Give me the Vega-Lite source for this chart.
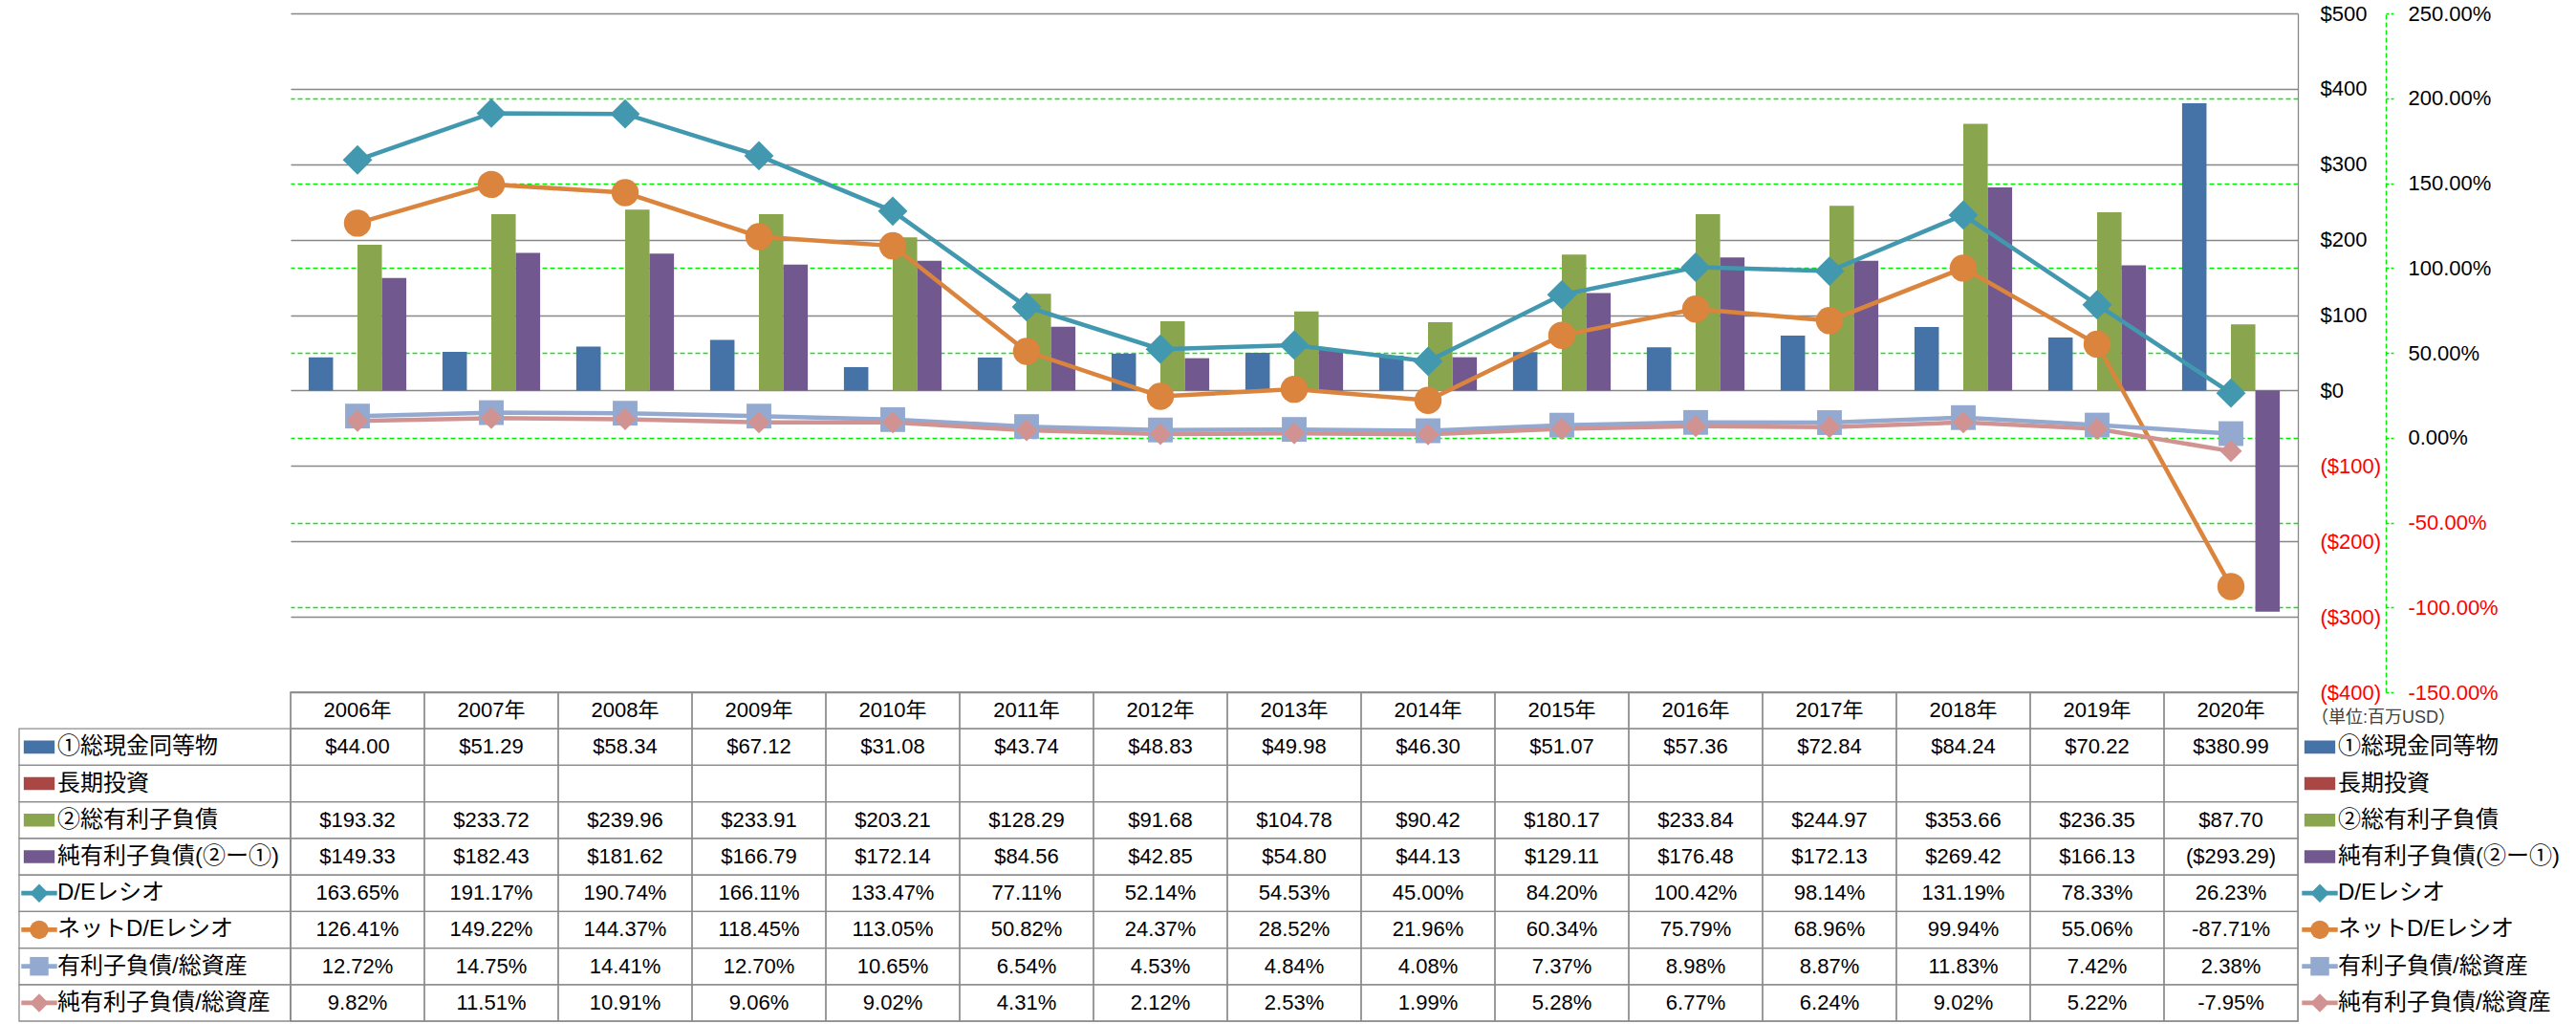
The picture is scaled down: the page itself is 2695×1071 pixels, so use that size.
{
  "$schema": "https://vega.github.io/schema/vega-lite/v6.json",
  "padding": {"left": 19, "top": 3, "right": 0, "bottom": 0},
  "background": "white",
  "config": {
    "view": {"stroke": null},
    "font": "Liberation Sans",
    "locale": {"number": {"decimal": ".", "thousands": ",", "grouping": [3], "currency": ["$", ""], "minus": "-"}},
    "text": {"font": "Liberation Sans, Noto Sans CJK JP", "color": "#000000"}
  },
  "datasets": {
    "fin": [
      {"year": "2006年", "①総現金同等物": 44.00, "長期投資": null, "②総有利子負債": 193.32, "純有利子負債(②ー①)": 149.33, "D/Eレシオ": 1.6365, "ネットD/Eレシオ": 1.2641, "有利子負債/総資産": 0.1272, "純有利子負債/総資産": 0.0982},
      {"year": "2007年", "①総現金同等物": 51.29, "長期投資": null, "②総有利子負債": 233.72, "純有利子負債(②ー①)": 182.43, "D/Eレシオ": 1.9117, "ネットD/Eレシオ": 1.4922, "有利子負債/総資産": 0.1475, "純有利子負債/総資産": 0.1151},
      {"year": "2008年", "①総現金同等物": 58.34, "長期投資": null, "②総有利子負債": 239.96, "純有利子負債(②ー①)": 181.62, "D/Eレシオ": 1.9074, "ネットD/Eレシオ": 1.4437, "有利子負債/総資産": 0.1441, "純有利子負債/総資産": 0.1091},
      {"year": "2009年", "①総現金同等物": 67.12, "長期投資": null, "②総有利子負債": 233.91, "純有利子負債(②ー①)": 166.79, "D/Eレシオ": 1.6611, "ネットD/Eレシオ": 1.1845, "有利子負債/総資産": 0.1270, "純有利子負債/総資産": 0.0906},
      {"year": "2010年", "①総現金同等物": 31.08, "長期投資": null, "②総有利子負債": 203.21, "純有利子負債(②ー①)": 172.14, "D/Eレシオ": 1.3347, "ネットD/Eレシオ": 1.1305, "有利子負債/総資産": 0.1065, "純有利子負債/総資産": 0.0902},
      {"year": "2011年", "①総現金同等物": 43.74, "長期投資": null, "②総有利子負債": 128.29, "純有利子負債(②ー①)": 84.56, "D/Eレシオ": 0.7711, "ネットD/Eレシオ": 0.5082, "有利子負債/総資産": 0.0654, "純有利子負債/総資産": 0.0431},
      {"year": "2012年", "①総現金同等物": 48.83, "長期投資": null, "②総有利子負債": 91.68, "純有利子負債(②ー①)": 42.85, "D/Eレシオ": 0.5214, "ネットD/Eレシオ": 0.2437, "有利子負債/総資産": 0.0453, "純有利子負債/総資産": 0.0212},
      {"year": "2013年", "①総現金同等物": 49.98, "長期投資": null, "②総有利子負債": 104.78, "純有利子負債(②ー①)": 54.80, "D/Eレシオ": 0.5453, "ネットD/Eレシオ": 0.2852, "有利子負債/総資産": 0.0484, "純有利子負債/総資産": 0.0253},
      {"year": "2014年", "①総現金同等物": 46.30, "長期投資": null, "②総有利子負債": 90.42, "純有利子負債(②ー①)": 44.13, "D/Eレシオ": 0.4500, "ネットD/Eレシオ": 0.2196, "有利子負債/総資産": 0.0408, "純有利子負債/総資産": 0.0199},
      {"year": "2015年", "①総現金同等物": 51.07, "長期投資": null, "②総有利子負債": 180.17, "純有利子負債(②ー①)": 129.11, "D/Eレシオ": 0.8420, "ネットD/Eレシオ": 0.6034, "有利子負債/総資産": 0.0737, "純有利子負債/総資産": 0.0528},
      {"year": "2016年", "①総現金同等物": 57.36, "長期投資": null, "②総有利子負債": 233.84, "純有利子負債(②ー①)": 176.48, "D/Eレシオ": 1.0042, "ネットD/Eレシオ": 0.7579, "有利子負債/総資産": 0.0898, "純有利子負債/総資産": 0.0677},
      {"year": "2017年", "①総現金同等物": 72.84, "長期投資": null, "②総有利子負債": 244.97, "純有利子負債(②ー①)": 172.13, "D/Eレシオ": 0.9814, "ネットD/Eレシオ": 0.6896, "有利子負債/総資産": 0.0887, "純有利子負債/総資産": 0.0624},
      {"year": "2018年", "①総現金同等物": 84.24, "長期投資": null, "②総有利子負債": 353.66, "純有利子負債(②ー①)": 269.42, "D/Eレシオ": 1.3119, "ネットD/Eレシオ": 0.9994, "有利子負債/総資産": 0.1183, "純有利子負債/総資産": 0.0902},
      {"year": "2019年", "①総現金同等物": 70.22, "長期投資": null, "②総有利子負債": 236.35, "純有利子負債(②ー①)": 166.13, "D/Eレシオ": 0.7833, "ネットD/Eレシオ": 0.5506, "有利子負債/総資産": 0.0742, "純有利子負債/総資産": 0.0522},
      {"year": "2020年", "①総現金同等物": 380.99, "長期投資": null, "②総有利子負債": 87.70, "純有利子負債(②ー①)": -293.29, "D/Eレシオ": 0.2623, "ネットD/Eレシオ": -0.8771, "有利子負債/総資産": 0.0238, "純有利子負債/総資産": -0.0795}
    ],
    "series": [
      {"series": "①総現金同等物"},
      {"series": "長期投資"},
      {"series": "②総有利子負債"},
      {"series": "純有利子負債(②ー①)"},
      {"series": "D/Eレシオ"},
      {"series": "ネットD/Eレシオ"},
      {"series": "有利子負債/総資産"},
      {"series": "純有利子負債/総資産"}
    ]
  },
  "columns": 3,
  "spacing": 0,
  "bounds": "flush",
  "concat": [
    {
      "width": 284,
      "height": 710,
      "data": {"values": [{"t": ""}]},
      "mark": {"type": "text"},
      "encoding": {"text": {"field": "t"}}
    },
    {
      "width": 2100,
      "height": 710,
      "data": {"name": "fin"},
      "layer": [
        {
          "transform": [{"fold": ["①総現金同等物", "②総有利子負債", "純有利子負債(②ー①)"], "as": ["series", "value"]}],
          "mark": {"type": "bar"},
          "encoding": {
            "x": {"field": "year", "type": "nominal", "sort": null, "scale": {"paddingInner": 0.27, "paddingOuter": 0.135}, "axis": null},
            "xOffset": {"field": "series", "type": "nominal", "scale": {"domain": ["①総現金同等物", "長期投資", "②総有利子負債", "純有利子負債(②ー①)"], "paddingInner": 0, "paddingOuter": 0}},
            "y": {
              "field": "value", "type": "quantitative",
              "scale": {"domain": [-400, 500], "nice": false},
              "axis": {
                "orient": "right", "offset": 0, "title": null,
                "values": [-400, -300, -200, -100, 0, 100, 200, 300, 400, 500],
                "format": "($,.0f",
                "domain": true, "domainColor": "#878787", "domainWidth": 1.3,
                "ticks": false, "tickSize": 0,
                "labelPadding": 23, "labelAlign": "left", "labelFontSize": 22, "labelFont": "Liberation Sans",
                "labelColor": {"condition": {"test": "datum.value < 0", "value": "#ff0000"}, "value": "#000000"},
                "labelOverlap": false, "labelFlush": false,
                "grid": true, "gridColor": "#878787", "gridWidth": 1.3
              }
            },
            "color": {
              "field": "series", "type": "nominal",
              "scale": {
                "domain": ["①総現金同等物", "長期投資", "②総有利子負債", "純有利子負債(②ー①)", "D/Eレシオ", "ネットD/Eレシオ", "有利子負債/総資産", "純有利子負債/総資産"],
                "range": ["#4572A7", "#AA4643", "#89A54E", "#71588F", "#4198AF", "#DB843D", "#93A9CF", "#D19392"]
              },
              "legend": null
            }
          }
        },
        {
          "transform": [{"fold": ["D/Eレシオ", "ネットD/Eレシオ", "有利子負債/総資産", "純有利子負債/総資産"], "as": ["series", "value"]}],
          "encoding": {
            "x": {"field": "year", "type": "nominal", "sort": null},
            "y": {
              "field": "value", "type": "quantitative",
              "scale": {"domain": [-1.5, 2.5], "nice": false},
              "axis": {
                "orient": "right", "offset": 92, "title": null,
                "values": [-1.5, -1, -0.5, 0, 0.5, 1, 1.5, 2, 2.5],
                "format": ".2%",
                "domain": true, "domainColor": "#00ee00", "domainDash": [5, 3], "domainWidth": 1.5,
                "ticks": true, "tickColor": "#00ee00", "tickSize": 8, "tickWidth": 1.5, "tickDash": [3, 2],
                "labelPadding": 15, "labelAlign": "left", "labelFontSize": 22, "labelFont": "Liberation Sans",
                "labelColor": {"condition": {"test": "datum.value < 0", "value": "#ff0000"}, "value": "#000000"},
                "labelOverlap": false, "labelFlush": false,
                "grid": true,
                "gridColor": {"condition": {"test": "datum.value > 2.4 || datum.value < -1.4", "value": "transparent"}, "value": "#00ee00"},
                "gridDash": [5, 3], "gridWidth": 1.5
              }
            },
            "color": {"field": "series", "type": "nominal", "legend": null}
          },
          "layer": [
            {"mark": {"type": "line", "strokeWidth": 4.5}},
            {
              "mark": {"type": "point", "filled": true, "opacity": 1},
              "encoding": {
                "shape": {"field": "series", "type": "nominal", "scale": {"domain": ["D/Eレシオ", "ネットD/Eレシオ", "有利子負債/総資産", "純有利子負債/総資産"], "range": ["diamond", "circle", "square", "diamond"]}, "legend": null},
                "size": {"field": "series", "type": "nominal", "scale": {"domain": ["D/Eレシオ", "ネットD/Eレシオ", "有利子負債/総資産", "純有利子負債/総資産"], "range": [950, 530, 500, 900]}, "legend": null}
              }
            }
          ]
        }
      ],
      "resolve": {"scale": {"y": "independent"}}
    },
    {
      "width": 285,
      "height": 710,
      "data": {"values": [{"t": ""}]},
      "mark": {"type": "text"},
      "encoding": {"text": {"field": "t"}}
    },
    {
      "width": 284,
      "height": 344,
      "data": {"name": "series"},
      "encoding": {
        "y": {"field": "series", "type": "nominal", "sort": null, "scale": {"type": "band", "domain": ["hdr", "①総現金同等物", "長期投資", "②総有利子負債", "純有利子負債(②ー①)", "D/Eレシオ", "ネットD/Eレシオ", "有利子負債/総資産", "純有利子負債/総資産"], "padding": 0}, "axis": null}
      },
      "layer": [
        {"mark": {"type": "rect", "fillOpacity": 0, "stroke": "#8c8c8c", "strokeWidth": 1.3}},
        {
          "mark": {"type": "point", "filled": true, "opacity": 1, "size": 1156},
          "encoding": {
            "x": {"datum": "key", "type": "nominal", "scale": {"type": "point", "domain": ["key", "name"], "range": [21, 40], "padding": 0}, "axis": null},
            "shape": {"field": "series", "type": "nominal", "scale": {"domain": ["①総現金同等物", "長期投資", "②総有利子負債", "純有利子負債(②ー①)", "D/Eレシオ", "ネットD/Eレシオ", "有利子負債/総資産", "純有利子負債/総資産"], "range": ["M-0.95,-0.4H0.95V0.4H-0.95Z", "M-0.95,-0.4H0.95V0.4H-0.95Z", "M-0.95,-0.4H0.95V0.4H-0.95Z", "M-0.95,-0.4H0.95V0.4H-0.95Z", "M-1.1,-0.14H1.1V0.14H-1.1Z", "M-1.1,-0.14H1.1V0.14H-1.1Z", "M-1.1,-0.14H1.1V0.14H-1.1Z", "M-1.1,-0.14H1.1V0.14H-1.1Z"]}, "legend": null},
            "color": {"field": "series", "type": "nominal", "scale": {"domain": ["①総現金同等物", "長期投資", "②総有利子負債", "純有利子負債(②ー①)", "D/Eレシオ", "ネットD/Eレシオ", "有利子負債/総資産", "純有利子負債/総資産"], "range": ["#4572A7", "#AA4643", "#89A54E", "#71588F", "#4198AF", "#DB843D", "#93A9CF", "#D19392"]}, "legend": null}
          }
        },
        {
          "transform": [{"filter": {"field": "series", "oneOf": ["D/Eレシオ", "ネットD/Eレシオ", "有利子負債/総資産", "純有利子負債/総資産"]}}],
          "mark": {"type": "point", "filled": true, "opacity": 1, "size": 380},
          "encoding": {
            "x": {"datum": "key", "type": "nominal"},
            "shape": {"field": "series", "type": "nominal", "scale": {"domain": ["D/Eレシオ", "ネットD/Eレシオ", "有利子負債/総資産", "純有利子負債/総資産"], "range": ["diamond", "circle", "square", "diamond"]}, "legend": null},
            "color": {"field": "series", "type": "nominal", "legend": null}
          }
        },
        {
          "mark": {"type": "text", "align": "left", "fontSize": 24},
          "encoding": {
            "x": {"datum": "name", "type": "nominal"},
            "text": {"field": "series"}
          }
        }
      ],
      "resolve": {"scale": {"shape": "independent"}}
    },
    {
      "width": 2100,
      "height": 344,
      "view": {"stroke": "#8c8c8c", "strokeWidth": 1.3},
      "data": {"name": "fin"},
      "layer": [
        {
          "mark": {"type": "rect", "fillOpacity": 0, "stroke": "#8c8c8c", "strokeWidth": 1.3},
          "encoding": {
            "x": {"field": "year", "type": "nominal", "sort": null, "scale": {"padding": 0}, "axis": null},
            "y": {"datum": "hdr", "type": "nominal", "scale": {"type": "band", "domain": ["hdr", "①総現金同等物", "長期投資", "②総有利子負債", "純有利子負債(②ー①)", "D/Eレシオ", "ネットD/Eレシオ", "有利子負債/総資産", "純有利子負債/総資産"], "padding": 0}, "axis": null}
          }
        },
        {
          "mark": {"type": "text", "fontSize": 22},
          "encoding": {
            "x": {"field": "year", "type": "nominal", "sort": null},
            "y": {"datum": "hdr", "type": "nominal"},
            "text": {"field": "year"}
          }
        },
        {
          "transform": [{"fold": ["①総現金同等物", "長期投資", "②総有利子負債", "純有利子負債(②ー①)", "D/Eレシオ", "ネットD/Eレシオ", "有利子負債/総資産", "純有利子負債/総資産"], "as": ["series", "value"]}],
          "mark": {"type": "rect", "fillOpacity": 0, "stroke": "#8c8c8c", "strokeWidth": 1.3},
          "encoding": {
            "x": {"field": "year", "type": "nominal", "sort": null},
            "y": {"field": "series", "type": "nominal"}
          }
        },
        {
          "transform": [
            {"fold": ["①総現金同等物", "②総有利子負債", "純有利子負債(②ー①)"], "as": ["series", "value"]},
            {"filter": "isValid(datum.value)"}
          ],
          "mark": {"type": "text", "fontSize": 22},
          "encoding": {
            "x": {"field": "year", "type": "nominal", "sort": null},
            "y": {"field": "series", "type": "nominal"},
            "text": {"field": "value", "type": "quantitative", "format": "($,.2f"}
          }
        },
        {
          "transform": [{"fold": ["D/Eレシオ", "ネットD/Eレシオ", "有利子負債/総資産", "純有利子負債/総資産"], "as": ["series", "value"]}],
          "mark": {"type": "text", "fontSize": 22},
          "encoding": {
            "x": {"field": "year", "type": "nominal", "sort": null},
            "y": {"field": "series", "type": "nominal"},
            "text": {"field": "value", "type": "quantitative", "format": ".2%"}
          }
        }
      ]
    },
    {
      "width": 285,
      "height": 344,
      "encoding": {
        "y": {"field": "series", "type": "nominal", "sort": null, "scale": {"type": "band", "domain": ["hdr", "①総現金同等物", "長期投資", "②総有利子負債", "純有利子負債(②ー①)", "D/Eレシオ", "ネットD/Eレシオ", "有利子負債/総資産", "純有利子負債/総資産"], "padding": 0}, "axis": null}
      },
      "layer": [
        {
          "data": {"name": "series"},
          "mark": {"type": "point", "filled": true, "opacity": 1, "size": 1156},
          "encoding": {
            "x": {"datum": "key", "type": "nominal", "scale": {"type": "point", "domain": ["key", "name"], "range": [23, 42], "padding": 0}, "axis": null},
            "shape": {"field": "series", "type": "nominal", "scale": {"domain": ["①総現金同等物", "長期投資", "②総有利子負債", "純有利子負債(②ー①)", "D/Eレシオ", "ネットD/Eレシオ", "有利子負債/総資産", "純有利子負債/総資産"], "range": ["M-0.95,-0.4H0.95V0.4H-0.95Z", "M-0.95,-0.4H0.95V0.4H-0.95Z", "M-0.95,-0.4H0.95V0.4H-0.95Z", "M-0.95,-0.4H0.95V0.4H-0.95Z", "M-1.1,-0.14H1.1V0.14H-1.1Z", "M-1.1,-0.14H1.1V0.14H-1.1Z", "M-1.1,-0.14H1.1V0.14H-1.1Z", "M-1.1,-0.14H1.1V0.14H-1.1Z"]}, "legend": null},
            "color": {"field": "series", "type": "nominal", "scale": {"domain": ["①総現金同等物", "長期投資", "②総有利子負債", "純有利子負債(②ー①)", "D/Eレシオ", "ネットD/Eレシオ", "有利子負債/総資産", "純有利子負債/総資産"], "range": ["#4572A7", "#AA4643", "#89A54E", "#71588F", "#4198AF", "#DB843D", "#93A9CF", "#D19392"]}, "legend": null}
          }
        },
        {
          "data": {"name": "series"},
          "transform": [{"filter": {"field": "series", "oneOf": ["D/Eレシオ", "ネットD/Eレシオ", "有利子負債/総資産", "純有利子負債/総資産"]}}],
          "mark": {"type": "point", "filled": true, "opacity": 1, "size": 380},
          "encoding": {
            "x": {"datum": "key", "type": "nominal"},
            "shape": {"field": "series", "type": "nominal", "scale": {"domain": ["D/Eレシオ", "ネットD/Eレシオ", "有利子負債/総資産", "純有利子負債/総資産"], "range": ["diamond", "circle", "square", "diamond"]}, "legend": null},
            "color": {"field": "series", "type": "nominal", "legend": null}
          }
        },
        {
          "data": {"name": "series"},
          "mark": {"type": "text", "align": "left", "fontSize": 24},
          "encoding": {
            "x": {"datum": "name", "type": "nominal"},
            "text": {"field": "series"}
          }
        },
        {
          "data": {"values": [{"series": "hdr", "t": "（単位:百万USD）"}]},
          "mark": {"type": "text", "align": "left", "fontSize": 18, "color": "#404040", "dy": 8, "dx": -9},
          "encoding": {
            "x": {"datum": "key", "type": "nominal"},
            "text": {"field": "t"}
          }
        }
      ],
      "resolve": {"scale": {"shape": "independent"}}
    }
  ]
}
